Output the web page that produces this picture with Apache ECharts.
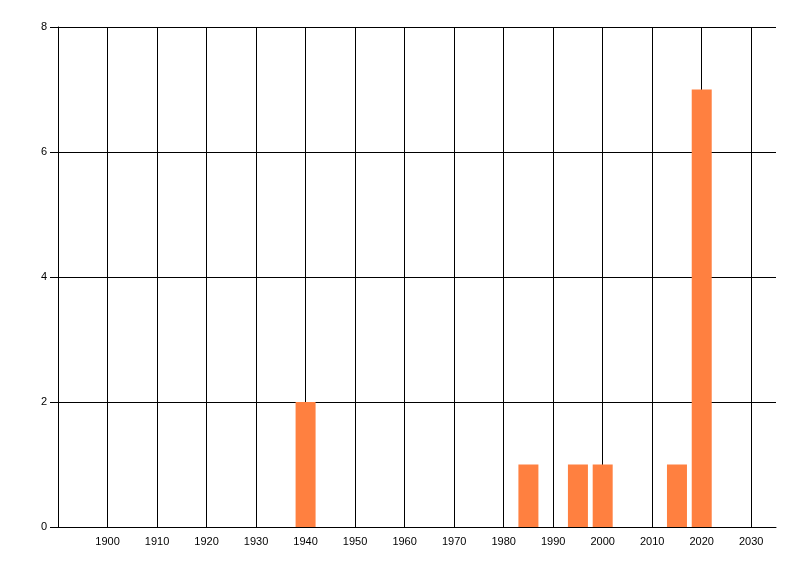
<!DOCTYPE html>
<html>
<head>
<meta charset="utf-8">
<script src="https://cdn.jsdelivr.net/npm/echarts@6/dist/echarts.min.js"></script>
<style>html,body{margin:0;padding:0;background:#fff}#c{width:800px;height:576px}</style>
</head>
<body>
<div id="c"></div>
<script>
var years = [1940, 1985, 1995, 2000, 2015, 2020];
var counts = [2, 1, 1, 1, 1, 7];
var xMin = 1890, xMax = 2035, xStep = 10;
var yMin = 0, yMax = 8, yStep = 2;

var chart = echarts.init(document.getElementById('c'), null, {renderer: 'canvas'});
var font = 'Liberation Sans';
chart.setOption({
  animation: false,
  backgroundColor: '#fff',
  grid: {left: 58, right: 24, top: 27, bottom: 49, containLabel: false},
  xAxis: {
    type: 'value', min: xMin, max: xMax, interval: xStep,
    axisLine: {show: true, lineStyle: {color: '#000', width: 1}},
    axisTick: {show: false},
    axisLabel: {
      color: '#000', fontFamily: font, fontSize: 11, margin: 9,
      showMinLabel: false, showMaxLabel: false,
      formatter: function (v) { return (v % 10 === 0 && v > xMin) ? String(v) : ''; }
    },
    splitLine: {show: true, showMinLine: true, showMaxLine: false, lineStyle: {color: '#000', width: 1}}
  },
  yAxis: {
    type: 'value', min: yMin, max: yMax, interval: yStep,
    axisLine: {show: true, lineStyle: {color: '#000', width: 1}},
    axisTick: {show: true, length: 8, lineStyle: {color: '#000'}},
    axisLabel: {color: '#000', fontFamily: font, fontSize: 11, margin: 11},
    splitLine: {show: true, lineStyle: {color: '#000', width: 1}}
  },
  series: [{
    type: 'bar',
    data: years.map(function (y, i) { return [y, counts[i]]; }),
    barWidth: 20,
    itemStyle: {color: '#FF8040'},
    z: 5
  }]
});
</script>
</body>
</html>
